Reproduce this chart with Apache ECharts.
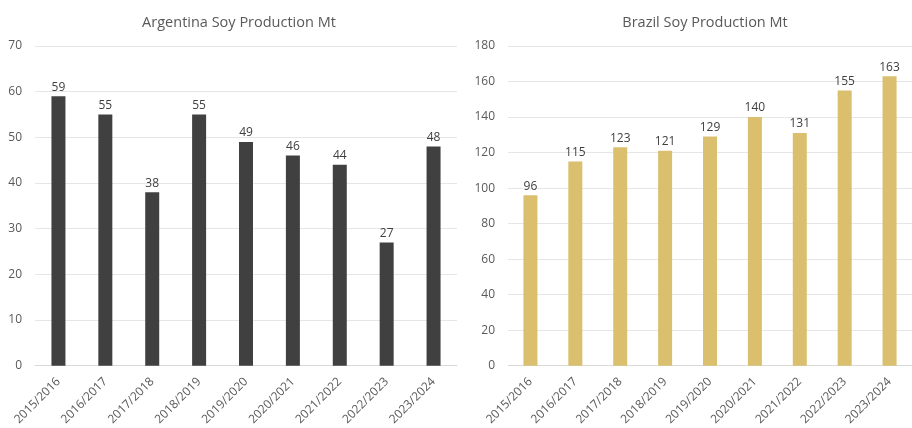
<!DOCTYPE html>
<html>
<head>
<meta charset="utf-8">
<script src="https://cdn.jsdelivr.net/npm/echarts@6/dist/echarts.min.js"></script>
<style>
  html, body { margin: 0; padding: 0; background: #fff; }
  #chart { width: 912px; height: 428px; }
</style>
</head>
<body>
<div id="chart"></div>
<script>
// crop years
var years = ['2015/2016', '2016/2017', '2017/2018', '2018/2019', '2019/2020',
             '2020/2021', '2021/2022', '2022/2023', '2023/2024'];
// production, million tonnes
var argentina = [59, 55, 38, 55, 49, 46, 44, 27, 48];
var brazil = [96, 115, 123, 121, 129, 140, 131, 155, 163];

var font = '"Open Sans", "Liberation Sans", sans-serif';
var textColor = '#595959';

function xAxisOf(idx) {
    return {
        type: 'category',
        gridIndex: idx,
        data: years,
        axisTick: { show: false },
        axisLine: { lineStyle: { color: '#d9d9d9', width: 1 } },
        axisLabel: {
            interval: 0,
            rotate: 45,
            margin: 14,
            color: textColor,
            fontFamily: font,
            fontSize: 12
        }
    };
}

function yAxisOf(idx, max) {
    return {
        type: 'value',
        gridIndex: idx,
        min: 0,
        max: max,
        interval: max / 7 > 10 ? 20 : 10,
        axisLine: { show: false },
        axisTick: { show: false },
        splitLine: { lineStyle: { color: '#e6e6e6', width: 1 } },
        axisLabel: { color: textColor, fontFamily: font, fontSize: 12, margin: 13 }
    };
}

function labelStyle() {
    return { show: true, position: 'top', distance: 3, color: '#404040', fontFamily: font, fontSize: 12 };
}

var chart = echarts.init(document.getElementById('chart'));
var option = {
    animation: false,
    title: [{
        text: 'Argentina Soy Production Mt',
        left: 234, top: 10, textAlign: 'center',
        textStyle: { color: textColor, fontFamily: font, fontSize: 14.5, fontWeight: 'normal' }
    }, {
        text: 'Brazil Soy Production Mt',
        left: 700, top: 10, textAlign: 'center',
        textStyle: { color: textColor, fontFamily: font, fontSize: 14.5, fontWeight: 'normal' }
    }],
    grid: [
        { left: 35, top: 46, width: 422, height: 320 },
        { left: 508, top: 46, width: 415, height: 320 }
    ],
    xAxis: [xAxisOf(0), xAxisOf(1)],
    yAxis: [yAxisOf(0, 70), yAxisOf(1, 180)],
    series: [{
        type: 'bar',
        xAxisIndex: 0,
        yAxisIndex: 0,
        data: argentina,
        barWidth: 14,
        itemStyle: { color: '#404040' },
        label: labelStyle()
    }, {
        type: 'bar',
        xAxisIndex: 1,
        yAxisIndex: 1,
        data: brazil,
        barWidth: 14,
        itemStyle: { color: '#d9bf6e' },
        label: labelStyle()
    }]
};
chart.setOption(option);
</script>
</body>
</html>
